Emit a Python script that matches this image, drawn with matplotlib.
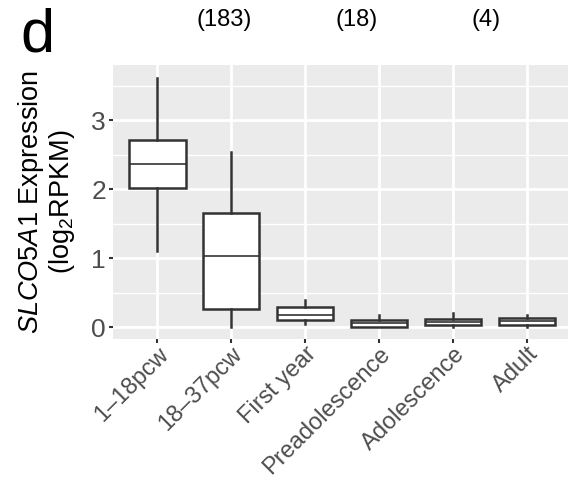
import numpy as np
import matplotlib
matplotlib.use("Agg")
import matplotlib.pyplot as plt

plt.rcParams['font.family'] = ['Liberation Sans', 'DejaVu Sans']
plt.rcParams['mathtext.fontset'] = 'custom'
plt.rcParams['mathtext.rm'] = 'Liberation Sans'
plt.rcParams['mathtext.it'] = 'Liberation Sans:italic'

# data
stages = ['1\u201318pcw', '18\u201337pcw', 'First year', 'Preadolescence', 'Adolescence', 'Adult']
whis_lo = [1.10, 0.00, 0.05, 0.00, 0.01, 0.00]
q1 = [2.02, 0.27, 0.11, 0.01, 0.03, 0.04]
median = [2.37, 1.03, 0.18, 0.06, 0.08, 0.09]
q3 = [2.71, 1.65, 0.29, 0.10, 0.12, 0.13]
whis_hi = [3.61, 2.54, 0.40, 0.18, 0.20, 0.18]
counts = ['(183)', '(18)', '(4)']

dark = '#333333'

fig = plt.figure(figsize=(5.68, 4.91), dpi=100)
ax = fig.add_axes([113 / 568, 1 - 339 / 491, 1 - 113 / 568, (339 - 65) / 491])
ax.set_facecolor('#EBEBEB')

stats = []
for i in range(len(stages)):
    stats.append(dict(med=median[i], q1=q1[i], q3=q3[i],
                      whislo=whis_lo[i], whishi=whis_hi[i], fliers=[]))

ax.bxp(stats, positions=np.arange(len(stages)), widths=0.76, patch_artist=True,
       showcaps=False,
       boxprops=dict(facecolor='white', edgecolor=dark, linewidth=1.8),
       medianprops=dict(color=dark, linewidth=1.2),
       whiskerprops=dict(color=dark, linewidth=1.8), zorder=3)

ax.set_xlim(-0.6, 5.55)
ax.set_ylim(-0.17, 3.80)
ax.set_yticks([0, 1, 2, 3])
ax.set_yticks([0.5, 1.5, 2.5, 3.5], minor=True)
ax.set_xticks(np.arange(len(stages)))
ax.set_xticklabels(stages, rotation=45, ha='right', va='top',
                   rotation_mode='anchor', fontsize=17)
ax.grid(which='major', color='white', linewidth=2.0)
ax.grid(which='minor', axis='y', color='white', linewidth=1.0)
ax.set_axisbelow(True)
for s in ax.spines.values():
    s.set_visible(False)
ax.tick_params(axis='both', which='major', length=3, width=1.5, color=dark,
               labelcolor='#4D4D4D', pad=2)
ax.tick_params(axis='y', which='major', labelsize=19)
ax.tick_params(axis='x', which='major', pad=0)
ax.tick_params(axis='y', which='minor', length=0)

ax.set_ylabel('$\\it{SLCO5A1}$ Expression\n(log$_2$RPKM)', fontsize=19.5,
              linespacing=1.05, labelpad=10)

fig.text(37 / 568, 1 - 36 / 491, 'd', fontsize=44, ha='center', va='center')
for x, t in zip([224, 357, 486], counts):
    fig.text(x / 568, 1 - 20 / 491, t, fontsize=17, ha='center', va='center')

fig.savefig('out.png', dpi=100)
